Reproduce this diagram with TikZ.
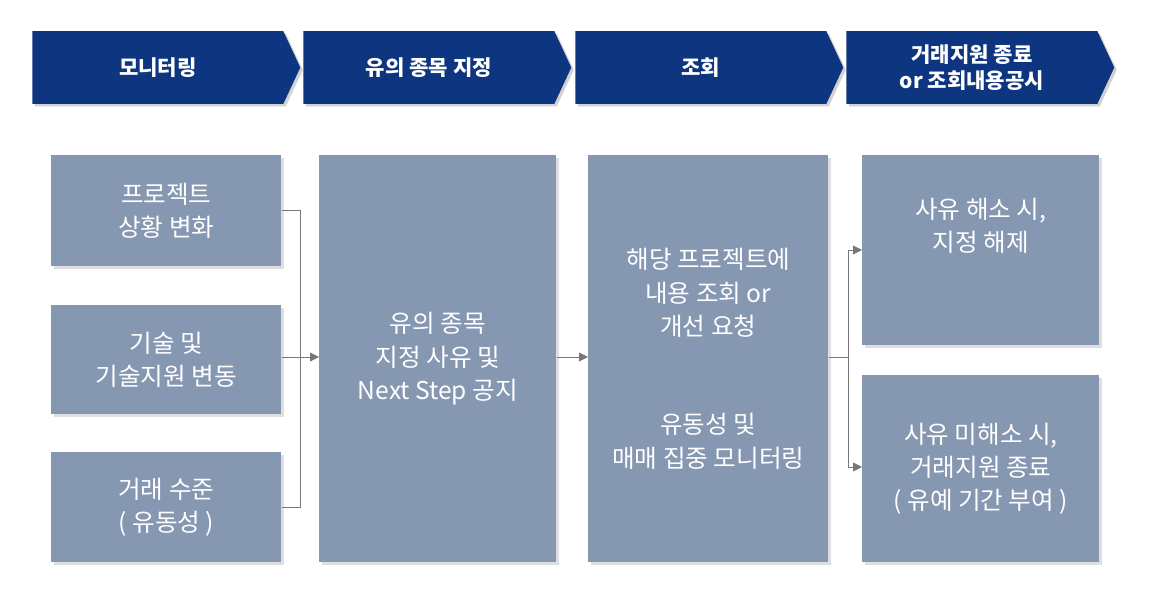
\documentclass[tikz,border=0pt]{standalone}
\usepackage{fontspec}
\setmainfont{Noto Sans CJK KR}
\usetikzlibrary{shapes.symbols,shadows,arrows.meta}
\definecolor{headblue}{RGB}{14,53,128}
\definecolor{boxgray}{RGB}{133,151,177}
\definecolor{linegray}{RGB}{120,120,120}
\tikzset{
   stage/.style = {signal, signal to=east, signal pointer angle=130, fill=headblue,
      text=white, font=\bfseries\fontsize{12}{15}\selectfont, align=center,
      minimum width=5.36cm, minimum height=1.46cm, inner sep=0pt, anchor=west,
      drop shadow={shadow xshift=0.05cm, shadow yshift=-0.05cm, fill=black!35}},
   card/.style = {fill=boxgray, text=white, font=\fontsize{14}{19}\selectfont,
      align=center, inner sep=0pt, anchor=north west,
      drop shadow={shadow xshift=0.05cm, shadow yshift=-0.05cm, fill=black!25}},
   link/.style = {draw=linegray, line width=0.5pt},
   arr/.style = {link, -{Triangle[length=5pt,width=5pt]}}
}
\begin{document}
\begin{tikzpicture}[x=0.02cm,y=-0.02cm]
    \useasboundingbox (0,0) rectangle (1154,599);
    % Steps
    \node[stage] (s1) at (32,67.5) {모니터링};
    \node[stage] (s2) at (303,67.5) {유의 종목 지정};
    \node[stage] (s3) at (575,67.5) {조회};
    \node[stage] (s4) at (846,67.5) {거래지원 종료\\or 조회내용공시};
    % Causes
    \node[card, minimum width=4.6cm, minimum height=2.22cm] (c1) at (51,155) {프로젝트\\상황 변화};
    \node[card, minimum width=4.6cm, minimum height=2.18cm] (c2) at (51,305) {기술 및\\기술지원 변동};
    \node[card, minimum width=4.6cm, minimum height=2.2cm] (c3) at (51,452) {거래 수준\\( 유동성 )};
    % Designation
    \node[card, minimum width=4.74cm, minimum height=8.14cm] (d) at (319,155) {유의 종목\\지정 사유 및\\Next Step 공지};
    % Inquiry
    \node[card, minimum width=4.8cm, minimum height=8.14cm] (q) at (588,155) {해당 프로젝트에\\내용 조회 or\\개선 요청\\[1.3cm]유동성 및\\매매 집중 모니터링};
    % Outcomes
    \node[card, minimum width=4.74cm, minimum height=3.8cm] (o1) at (862,155) {사유 해소 시,\\지정 해제\\[0.35cm]};
    \node[card, minimum width=4.74cm, minimum height=3.74cm] (o2) at (862,375) {사유 미해소 시,\\거래지원 종료\\( 유예 기간 부여 )};
    % Lines
    \coordinate (j1) at (300,357);
    \coordinate (j2) at (848,357);
    \draw[link] (c1.east |- 0,210) -| (j1);
    \draw[link] (c3.east |- 0,507) -| (j1);
    \draw[link] (c2.east |- j1) -- (j1);
    \draw[arr] (j1) -- (d.west |- j1);
    \draw[arr] (d.east |- j1) -- (q.west |- j1);
    \draw[link] (q.east |- j2) -- (j2);
    \draw[arr] (j2) |- (o1.west |- 0,250);
    \draw[arr] (j2) |- (o2.west |- 0,467);
\end{tikzpicture}
\end{document}
